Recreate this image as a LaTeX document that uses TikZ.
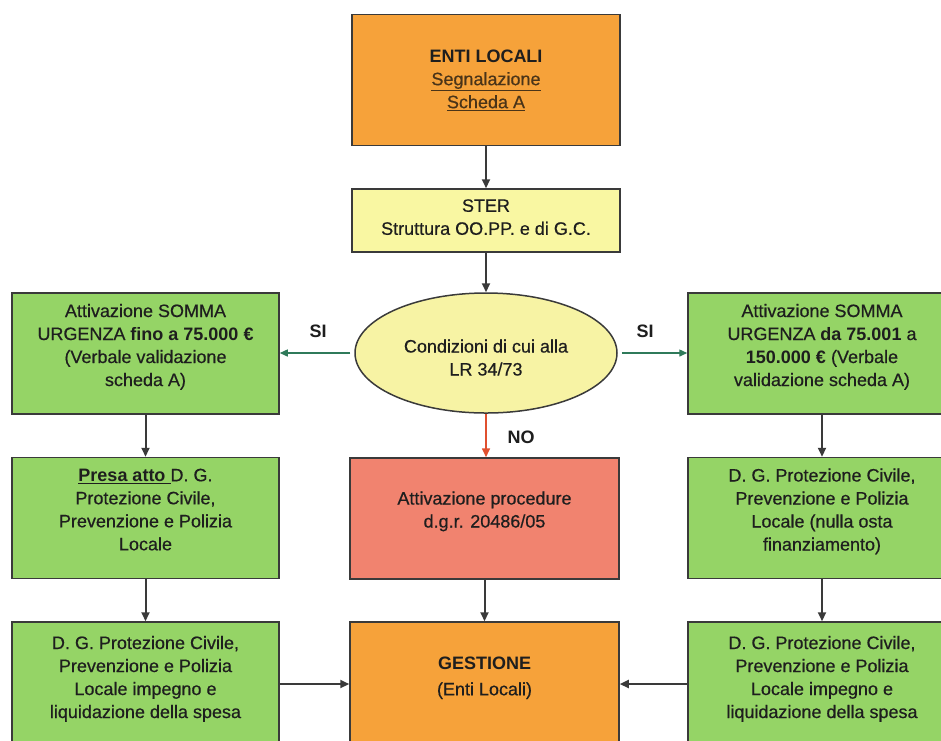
\documentclass[tikz,border=0pt]{standalone}
\usepackage{fontspec}
\setmainfont{Liberation Sans}[UprightFeatures={FakeBold=0.5}]
\usetikzlibrary{arrows.meta,shapes.geometric}

\definecolor{edge}{HTML}{3A3A3A}
\definecolor{ink}{HTML}{1E1E1E}
\definecolor{brownink}{HTML}{4A3418}
\definecolor{orangefill}{HTML}{F6A23A}
\definecolor{sterfill}{HTML}{F9F7A2}
\definecolor{condfill}{HTML}{F7F3A4}
\definecolor{greenfill}{HTML}{95D466}
\definecolor{redfill}{HTML}{F1836F}
\definecolor{yesline}{HTML}{2F7A5A}
\definecolor{noline}{HTML}{E0502F}

\tikzset{
  box/.style={draw=edge, line width=1.5pt, minimum width=267pt, minimum height=121pt,
    align=center, text=ink, inner sep=3pt, font=\fontsize{18}{23}\selectfont},
  greenbox/.style={box, fill=greenfill},
  flow/.style={draw=edge, line width=2pt, -{Triangle[length=9pt,width=8pt]}},
  yesflow/.style={draw=yesline, line width=1.4pt, -{Triangle[length=8pt,width=7pt]}},
  noflow/.style={draw=noline, line width=1.6pt, -{Triangle[length=9pt,width=8pt]}},
  lbl/.style={text=ink, font=\bfseries\fontsize{18}{22}\selectfont}
}

\begin{document}
\begin{tikzpicture}[x=1pt,y=-1pt]
\useasboundingbox (0,0) rectangle (941,740);
\clip (0,0) rectangle (941,740);

% central column
\node[box, fill=orangefill, minimum width=268pt, minimum height=131pt] (enti) at (486,80)
  {\textbf{ENTI LOCALI}\\ \textcolor{brownink}{\underline{Segnalazione}}\\ \textcolor{brownink}{\underline{Scheda A}}};
\node[box, fill=sterfill, minimum width=268pt, minimum height=63pt] (ster) at (486,220.5)
  {STER\\ Struttura OO.PP. e di G.C.\\[-16pt]};
\node[ellipse, draw=edge, line width=1.5pt, fill=condfill, minimum width=262pt, minimum height=120pt,
  align=center, text=ink, inner sep=0pt, font=\fontsize{18}{23}\selectfont] (cond) at (486,353)
  {Condizioni di cui alla\\ LR 34/73\\[-32pt]};
\node[box, fill=redfill, minimum width=269pt] (red) at (484.5,518.5)
  {Attivazione procedure\\ d.g.r. 20486/05\\[-5pt]};
\node[box, fill=orangefill, minimum width=269pt, minimum height=124pt] (gest) at (484.5,684)
  {\textbf{GESTIONE}\\[3pt] (Enti Locali)\\[-7pt]};

% left column
\node[greenbox] (lt) at (145.5,353.5)
  {Attivazione SOMMA\\ URGENZA \textbf{fino a 75.000 €}\\ (Verbale validazione\\ scheda A)\\[-6pt]};
\node[greenbox] (lm) at (145.5,518)
  {\underline{\textbf{Presa atto }}D. G.\\ Protezione Civile,\\ Prevenzione e Polizia\\ Locale\\[-6pt]};
\node[greenbox, minimum height=124pt] (lb) at (145.5,684)
  {D. G. Protezione Civile,\\ Prevenzione e Polizia\\ Locale impegno e\\ liquidazione della spesa\\[-9pt]};

% right column
\node[greenbox, minimum width=268pt] (rt) at (822,353.5)
  {Attivazione SOMMA\\ URGENZA \textbf{da 75.001} a\\ \textbf{150.000 €} (Verbale\\ validazione scheda A)\\[-6pt]};
\node[greenbox, minimum width=268pt] (rm) at (822,518)
  {D. G. Protezione Civile,\\ Prevenzione e Polizia\\ Locale (nulla osta\\ finanziamento)\\[-6pt]};
\node[greenbox, minimum width=268pt, minimum height=124pt] (rb) at (822,684)
  {D. G. Protezione Civile,\\ Prevenzione e Polizia\\ Locale impegno e\\ liquidazione della spesa\\[-9pt]};

% connectors
\draw[flow] (enti) -- (ster);
\draw[flow] (ster) -- (cond);
\draw[noflow] (cond.south) -- (cond.south |- red.north);
\draw[yesflow] ([xshift=-4pt]cond.west) -- (lt.east |- cond.west);
\draw[yesflow] ([xshift=4pt]cond.east) -- (rt.west |- cond.east);
\draw[flow] (lt) -- (lm);
\draw[flow] (lm) -- (lb);
\draw[flow] (rt) -- (rm);
\draw[flow] (rm) -- (rb);
\draw[flow] (red) -- (gest);
\draw[flow] (lb.east) -- (gest.west);
\draw[flow] (rb.west) -- (gest.east);

% branch labels
\node[lbl] (si1) at (318,331) {SI};
\node[lbl] (si2) at (645,331) {SI};
\node[lbl] (no) at (521,437) {NO};
\end{tikzpicture}
\end{document}
